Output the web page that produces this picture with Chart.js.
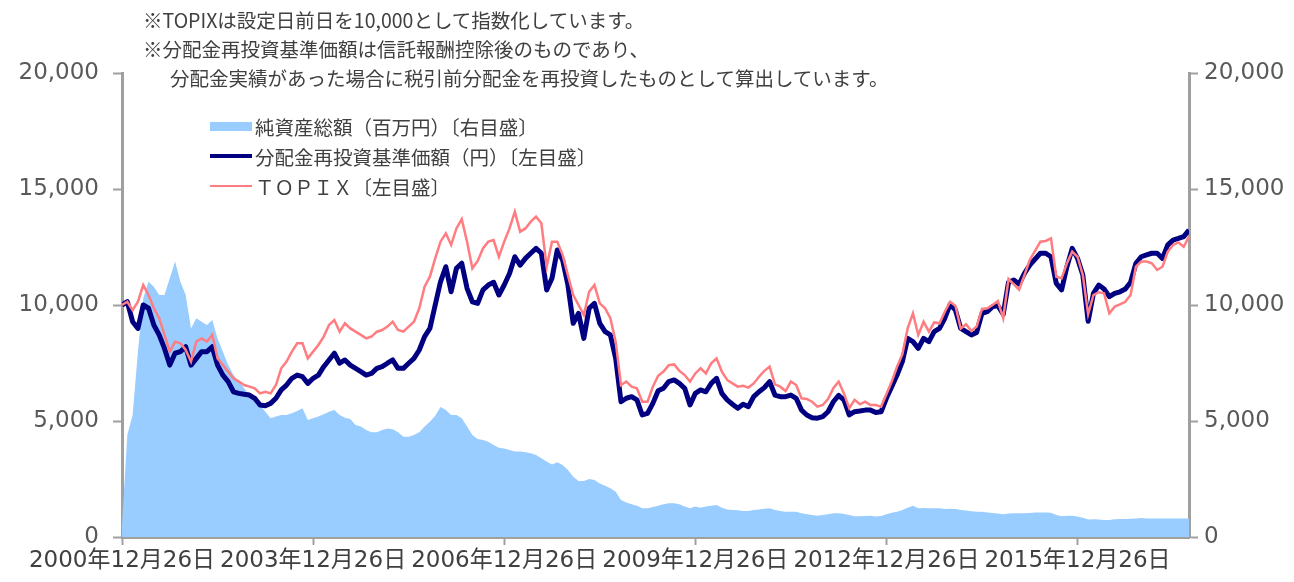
<!DOCTYPE html>
<html lang="ja">
<head>
<meta charset="utf-8">
<script src="https://cdn.jsdelivr.net/npm/chart.js@4.4.0/dist/chart.umd.min.js"></script>
<style>
body { margin: 0; background: #fff; }
#wrap { position: relative; width: 1294px; height: 582px; }
.texto { position: absolute; white-space: nowrap; line-height: 1; font-size: 19.5px; color: #404040;
  font-family: 'Noto Sans CJK JP', 'DejaVu Sans', sans-serif; }
.muestra { position: absolute; }
</style>
</head>
<body>
<div id="wrap">
  <canvas id="myChart" width="1294" height="582"></canvas>

  <!-- notas -->
  <div class="texto" style="left:143px; top:10px;">※TOPIXは設定日前日を10,000として指数化しています。</div>
  <div class="texto" style="left:143px; top:39px;">※分配金再投資基準価額は信託報酬控除後のものであり、</div>
  <div class="texto" style="left:170px; top:68px;">分配金実績があった場合に税引前分配金を再投資したものとして算出しています。</div>

  <!-- leyenda -->
  <div class="muestra" style="left:210px; top:122px; width:42px; height:9px; background:#99CCFF;"></div>
  <div class="texto" style="left:255px; top:117px;">純資産総額（百万円）〔右目盛〕</div>
  <div class="muestra" style="left:210px; top:154px; width:42px; height:4px; background:#000080;"></div>
  <div class="texto" style="left:255px; top:147px;">分配金再投資基準価額（円）〔左目盛〕</div>
  <div class="muestra" style="left:210px; top:185px; width:42px; height:2px; background:#FF7C80;"></div>
  <div class="texto" style="left:255px; top:177px;">ＴＯＰＩＸ〔左目盛〕</div>
</div>

<script>
var ctx = document.getElementById('myChart').getContext('2d');

// Eje X: meses desde 2000/12/26, etiquetas cada 3 años
var etiquetasX = ['2000年12月26日', '2003年12月26日', '2006年12月26日', '2009年12月26日', '2012年12月26日', '2015年12月26日'];
var posicionesX = [0, 36, 72, 108, 144, 180];
var mesFinal = 201;

// Ejes Y (izquierdo y derecho comparten escala)
var ticksY = [0, 5000, 10000, 15000, 20000];

// 分配金再投資基準価額 (円), un valor por mes
var baseValues = [
  10000, 10140, 9280, 8990, 10000, 9860, 9140, 8710, 8130, 7410,
  7920, 7990, 8200, 7410, 7700, 7990, 7990, 8200, 7410, 6980,
  6700, 6260, 6190, 6150, 6120, 5980, 5690, 5660, 5760, 5980,
  6340, 6550, 6840, 6980, 6910, 6620, 6840, 6980, 7340, 7630,
  7920, 7490, 7630, 7410, 7270, 7130, 6980, 7050, 7270, 7340,
  7490, 7630, 7270, 7270, 7490, 7700, 8060, 8640, 8990, 10000,
  11000, 11650, 10570, 11580, 11800, 10720, 10140, 10070, 10650, 10860,
  10980, 10430, 10860, 11360, 12080, 11720, 12010, 12230, 12440, 12230,
  10650, 11150, 12370, 11940, 10860, 9210, 9640, 8560, 9860, 10070,
  9210, 8850, 8710, 7700, 5830, 5980, 6050, 5910, 5260, 5330,
  5760, 6300, 6410, 6700, 6770, 6620, 6410, 5690, 6190, 6340,
  6260, 6620, 6840, 6190, 5910, 5720, 5550, 5720, 5620, 6050,
  6260, 6440, 6700, 6120, 6050, 6050, 6120, 5980, 5470, 5260,
  5140, 5120, 5190, 5400, 5830, 6100, 5910, 5260, 5400, 5430,
  5470, 5470, 5370, 5400, 5980, 6480, 6980, 7560, 8560, 8420,
  8130, 8560, 8420, 8850, 8990, 9430, 10030, 9780, 8990, 8850,
  8710, 8820, 9640, 9710, 9930, 9970, 9600, 10980, 11080, 10900,
  11360, 11720, 11980, 12230, 12230, 12080, 10930, 10650, 11650, 12440,
  12010, 11290, 9300, 10500, 10860, 10690, 10360, 10500, 10570, 10690,
  10980, 11800, 12080, 12160, 12230, 12230, 12010, 12590, 12800, 12870,
  12950, 13230
];

// TOPIX (指数化)
var topixValues = [
  10000, 10140, 9780, 10140, 10860, 10430, 9860, 9430, 8710, 7990,
  8420, 8350, 8060, 7560, 8420, 8560, 8420, 8710, 7700, 7410,
  7130, 6840, 6700, 6550, 6480, 6410, 6190, 6260, 6190, 6550,
  7270, 7560, 7990, 8350, 8350, 7700, 7990, 8280, 8640, 9140,
  9350, 8850, 9210, 8990, 8850, 8710, 8560, 8640, 8850, 8920,
  9070, 9280, 8920, 8850, 9070, 9280, 9860, 10790, 11220, 12010,
  12730, 13090, 12590, 13300, 13700, 12730, 11580, 11900, 12440, 12730,
  12800, 12080, 12730, 13300, 14020, 13160, 13300, 13590, 13810, 13520,
  11650, 12730, 12730, 12160, 11290, 10430, 10000, 9570, 10570, 10860,
  10070, 9860, 9430, 8420, 6550, 6700, 6480, 6410, 5830, 5830,
  6480, 6950, 7130, 7410, 7440, 7160, 6980, 6700, 7050, 7270,
  7050, 7490, 7700, 7130, 6770, 6620, 6480, 6520, 6440, 6620,
  6910, 7160, 7340, 6580, 6480, 6290, 6700, 6550, 5980, 5950,
  5830, 5620, 5690, 5950, 6410, 6700, 6190, 5550, 5910, 5720,
  5830, 5690, 5690, 5620, 6150, 6700, 7340, 7870, 8990, 9640,
  8710, 9280, 8850, 9250, 9210, 9710, 10140, 9970, 8990, 9170,
  8880, 9070, 9830, 9860, 10000, 10170, 9430, 11120, 10890, 10660,
  11290, 11940, 12330, 12730, 12760, 12870, 11220, 11150, 11800, 12300,
  12080, 11290, 9600, 10430, 10550, 10500, 9640, 9930, 10030, 10140,
  10430, 11650, 11870, 11870, 11800, 11510, 11650, 12300, 12590, 12700,
  12510, 12950
];

// 純資産総額 (百万円)
var assetValues = [
  500, 4400, 5260, 7990, 10290, 11000, 10790, 10430, 10430, 11150,
  11870, 11000, 10430, 8990, 9430, 9280, 9140, 9350, 8560, 7990,
  7410, 6980, 6700, 6410, 6120, 5980, 5690, 5400, 5120, 5190,
  5260, 5260, 5330, 5430, 5550, 5040, 5120, 5190, 5290, 5400,
  5470, 5260, 5140, 5090, 4830, 4760, 4610, 4510, 4510, 4610,
  4680, 4640, 4510, 4320, 4320, 4400, 4510, 4760, 4970, 5230,
  5600, 5470, 5260, 5260, 5120, 4760, 4400, 4220, 4180, 4110,
  3970, 3850, 3820, 3750, 3680, 3680, 3650, 3610, 3530, 3390,
  3250, 3130, 3220, 3100, 2890, 2600, 2410, 2410, 2500, 2460,
  2310, 2210, 2100, 1950, 1590, 1490, 1410, 1350, 1240, 1240,
  1290, 1350, 1410, 1450, 1450, 1410, 1310, 1240, 1310, 1260,
  1310, 1350, 1380, 1260, 1180, 1160, 1150, 1120, 1120, 1160,
  1190, 1220, 1240, 1160, 1120, 1090, 1090, 1090, 1020, 980,
  950, 920, 950, 980, 1020, 1020, 990, 950, 890, 890,
  910, 920, 880, 910, 980, 1050, 1090, 1160, 1260, 1350,
  1240, 1250, 1240, 1240, 1240, 1210, 1220, 1210, 1160, 1140,
  1110, 1090, 1090, 1060, 1030, 1010, 980, 1010, 1020, 1020,
  1020, 1030, 1060, 1060, 1060, 1050, 950, 890, 920, 920,
  880, 830, 750, 760, 750, 730, 730, 760, 780, 780,
  790, 800, 820, 800, 800, 800, 800, 800, 800, 800,
  800, 800
];

function aPuntos(valores) {
  return valores.map(function(v, i) { return { x: i, y: v }; });
}

Chart.defaults.font.family = "'DejaVu Sans', 'Noto Sans CJK JP', sans-serif";

var colorEje = '#A0A0A0';

var myChart = new Chart(ctx, {
  type: 'line',
  data: {
    datasets: [
      {
        label: 'ＴＯＰＩＸ〔左目盛〕',
        data: aPuntos(topixValues),
        yAxisID: 'y',
        borderColor: '#FF7C80',
        borderWidth: 2.5,
        pointRadius: 0,
        fill: false,
        order: 0
      },
      {
        label: '分配金再投資基準価額（円）〔左目盛〕',
        data: aPuntos(baseValues),
        yAxisID: 'y',
        borderColor: '#000080',
        borderWidth: 5,
        borderJoinStyle: 'round',
        pointRadius: 0,
        fill: false,
        order: 1
      },
      {
        label: '純資産総額（百万円）〔右目盛〕',
        data: aPuntos(assetValues),
        yAxisID: 'y1',
        borderColor: 'rgba(0,0,0,0)',
        borderWidth: 0,
        backgroundColor: '#99CCFF',
        pointRadius: 0,
        fill: 'origin',
        order: 2
      }
    ]
  },
  options: {
    responsive: false,
    animation: false,
    layout: { padding: { top: 73, left: 0, right: 0, bottom: 0 } },
    plugins: {
      legend: { display: false },
      tooltip: { enabled: false }
    },
    scales: {
      x: {
        type: 'linear',
        min: 0,
        max: mesFinal,
        afterBuildTicks: function(scale) {
          scale.ticks = posicionesX.map(function(v) { return { value: v }; });
        },
        afterFit: function(scale) { scale.height = 45; },
        ticks: {
          autoSkip: false,
          maxRotation: 0,
          padding: 2,
          color: '#404040',
          font: { size: 23 },
          callback: function(value, index) { return etiquetasX[index]; }
        },
        grid: { drawOnChartArea: false, tickLength: 8, tickColor: colorEje, tickWidth: 2 },
        border: { color: colorEje, width: 3 }
      },
      y: {
        position: 'left',
        min: 0,
        max: 20000,
        afterBuildTicks: function(scale) {
          scale.ticks = ticksY.map(function(v) { return { value: v }; });
        },
        afterFit: function(scale) { scale.width = 122; },
        ticks: {
          padding: 14,
          color: '#595959',
          font: { size: 23 },
          callback: function(value) { return value.toLocaleString('en-US'); }
        },
        grid: { drawOnChartArea: false, tickLength: 9, tickColor: colorEje, tickWidth: 2 },
        border: { color: colorEje, width: 3 }
      },
      y1: {
        position: 'right',
        min: 0,
        max: 20000,
        afterBuildTicks: function(scale) {
          scale.ticks = ticksY.map(function(v) { return { value: v }; });
        },
        afterFit: function(scale) { scale.width = 105; },
        ticks: {
          padding: 6,
          color: '#595959',
          font: { size: 23 },
          callback: function(value) { return value.toLocaleString('en-US'); }
        },
        grid: { drawOnChartArea: false, tickLength: 9, tickColor: colorEje, tickWidth: 2 },
        border: { color: colorEje, width: 3 }
      }
    }
  }
});
</script>
</body>
</html>
